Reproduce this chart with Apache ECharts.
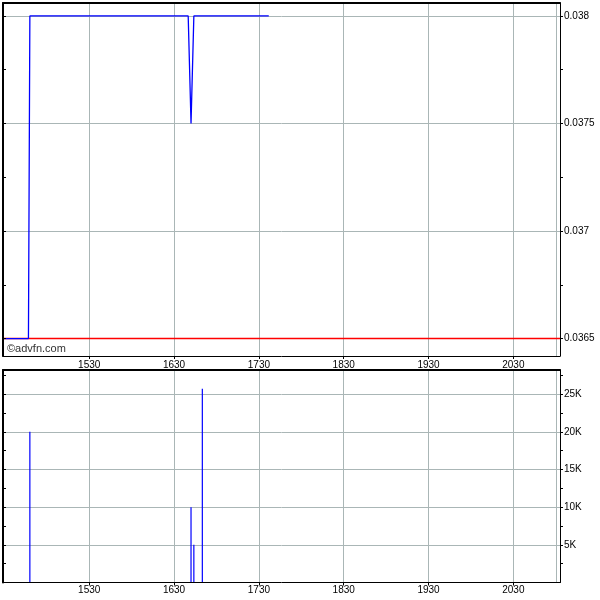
<!DOCTYPE html>
<html><head><meta charset="utf-8">
<script src="https://cdn.jsdelivr.net/npm/echarts@6/dist/echarts.min.js"></script>
<style>html,body{margin:0;padding:0;background:#fff}#c{width:600px;height:600px}</style>
</head><body><div id="c"></div>
<script>
// ---- data ----
const priceTimes  = ['14:29', '14:47', '14:48', '16:40', '16:42', '16:44', '17:37'];
const priceValues = [0.0365, 0.0365, 0.038, 0.038, 0.0375, 0.038, 0.038];
const volumeTimes  = ['14:48', '16:42', '16:44', '16:50'];
const volumeValues = [20000, 10000, 5000, 25700];
const prevClose = 0.0365;
const timeTicks = ['15:30', '16:30', '17:30', '18:30', '19:30', '20:30'];
const sessionEnd = '21:00';
const axisStart = '14:29';
const axisEnd = '21:03';
const priceTicks = [0.0365, 0.037, 0.0375, 0.038];
const priceMinorTicks = [0.0365, 0.03675, 0.037, 0.03725, 0.0375, 0.03775, 0.038];
const priceMin = 0.036419, priceMax = 0.03806;
const volumeTicks = [5000, 10000, 15000, 20000, 25000];
const volumeMinorTicks = [2500, 5000, 7500, 10000, 12500, 15000, 17500, 20000, 22500, 25000, 27500];
const volumeMax = 28200;

// ---- helpers ----
const toMin = t => { const p = t.split(':'); return +p[0] * 60 + +p[1]; };
const fmtTime = v => { const h = Math.floor(v / 60), m = Math.round(v % 60); return '' + h + (m < 10 ? '0' : '') + m; };
const tickMins = timeTicks.map(toMin);
const xStart = toMin(axisStart), xEnd = toMin(axisEnd);
const FONT = 'Liberation Sans, Arial, sans-serif';
const gridColor = '#aab6b6';

const chart = echarts.init(document.getElementById('c'), null, { renderer: 'canvas' });

function xAxes(gridIndex, labelMargin) {
  return [
    { type: 'value', gridIndex, position: 'bottom', min: xStart, max: xEnd, z: 6,
      splitLine: { show: false },
      axisLine: { show: true, onZero: false, lineStyle: { color: '#000', width: 1 } },
      axisTick: { show: true, inside: false, length: 3, customValues: tickMins, lineStyle: { color: '#000' } },
      axisLabel: { show: true, customValues: tickMins, formatter: v => fmtTime(v), margin: labelMargin,
        color: '#000', fontSize: 10, fontFamily: FONT } },
    { type: 'value', gridIndex, position: 'top', min: xStart, max: xEnd, z: 6,
      splitLine: { show: false },
      axisLine: { show: true, onZero: false, lineStyle: { color: '#000', width: 2 } },
      axisTick: { show: false }, axisLabel: { show: false } }
  ];
}
function yAxes(gridIndex, min, max, major, minor, fmt) {
  return [
    { type: 'value', gridIndex, position: 'right', min, max, z: 6,
      splitLine: { show: false },
      axisLine: { show: true, onZero: false, lineStyle: { color: '#000', width: 1 } },
      axisTick: { show: true, inside: false, length: 3, customValues: minor, lineStyle: { color: '#000' } },
      axisLabel: { show: true, customValues: major, formatter: fmt, margin: 4,
        color: '#000', fontSize: 10, fontFamily: FONT } },
    { type: 'value', gridIndex, position: 'left', min, max, z: 6,
      splitLine: { show: false },
      axisLine: { show: true, onZero: false, lineStyle: { color: '#000', width: 2 } },
      axisTick: { show: true, inside: true, length: 3, customValues: minor, lineStyle: { color: '#000' } },
      axisLabel: { show: false } }
  ];
}

const gridLineStyle = { color: gridColor, width: 1, type: 'solid' };
function hLine(v) { return [{ coord: [xStart, v] }, { coord: [xEnd, v] }]; }
function gridSeries(xi, yi, hVals) {
  return {
    type: 'line', xAxisIndex: xi, yAxisIndex: yi, data: [], z: 1, silent: true,
    markLine: {
      z: 1, silent: true, symbol: ['none', 'none'], label: { show: false }, animation: false,
      lineStyle: gridLineStyle, emphasis: { disabled: true },
      data: hVals.map(hLine)
        .concat(tickMins.map(v => ({ xAxis: v })))
        .concat([{ xAxis: toMin(sessionEnd) }])
    }
  };
}

const option = {
  animation: false,
  backgroundColor: '#fff',
  grid: [
    { left: 3, right: 40, top: 3, height: 353, containLabel: false },
    { left: 3, right: 40, top: 370, height: 212.5, containLabel: false }
  ],
  xAxis: xAxes(0, 4).concat(xAxes(1, 3)),
  yAxis: yAxes(0, priceMin, priceMax, priceTicks, priceMinorTicks, v => String(+v.toFixed(5)))
    .concat(yAxes(1, 0, volumeMax, volumeTicks, volumeMinorTicks, v => (v / 1000) + 'K')),
  graphic: [
    { type: 'text', left: 7, top: 343, z: 10,
      style: { text: '©advfn.com', fill: '#333', font: '11px ' + FONT } }
  ],
  series: [
    gridSeries(0, 0, priceTicks),
    gridSeries(2, 2, volumeTicks),
    { type: 'line', xAxisIndex: 0, yAxisIndex: 0, data: [], z: 2, silent: true,
      markLine: { z: 2, silent: true, symbol: ['none', 'none'], label: { show: false },
        lineStyle: { color: '#ff0000', width: 1.3, type: 'solid' }, emphasis: { disabled: true },
        data: [hLine(prevClose)] } },
    { name: 'Price', type: 'line', xAxisIndex: 0, yAxisIndex: 0, z: 4,
      data: priceTimes.map((t, i) => [toMin(t), priceValues[i]]),
      showSymbol: false, symbol: 'none',
      lineStyle: { color: '#0000ff', width: 1.3 } },
    { name: 'Volume', type: 'bar', xAxisIndex: 2, yAxisIndex: 2, z: 4,
      data: volumeTimes.map((t, i) => [toMin(t), volumeValues[i]]),
      barWidth: 1.2, itemStyle: { color: '#0000ff' } }
  ]
};
chart.setOption(option);
</script>
</body></html>
